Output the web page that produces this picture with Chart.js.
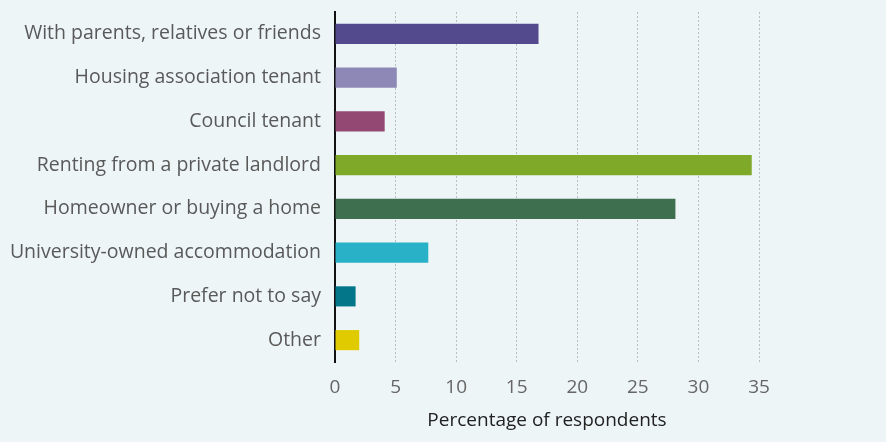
<!DOCTYPE html>
<html>
<head>
<meta charset="utf-8">
<script src="https://cdn.jsdelivr.net/npm/chart.js@4"></script>
<style>
  html, body { margin: 0; padding: 0; background: #eef5f7; }
  #wrap { width: 886px; height: 442px; }
</style>
</head>
<body>
<div id="wrap"><canvas id="housingChart" width="886" height="442"></canvas></div>
<script>
// Where respondents live (percentage)
const categories = [
  "With parents, relatives or friends",
  "Housing association tenant",
  "Council tenant",
  "Renting from a private landlord",
  "Homeowner or buying a home",
  "University-owned accommodation",
  "Prefer not to say",
  "Other"
];
const percentages = [16.8, 5.1, 4.1, 34.4, 28.1, 7.7, 1.7, 2.0];
const barColors = ["#534a8e", "#8e88b6", "#924872", "#7fa928", "#3e6f4f", "#29b1c8", "#03768a", "#dfcb00"];
const xTicks = [0, 5, 10, 15, 20, 25, 30, 35];

const ctx = document.getElementById("housingChart").getContext("2d");
new Chart(ctx, {
  type: "bar",
  data: {
    labels: categories,
    datasets: [
      {
        label: "Percentage of respondents",
        data: percentages,
        backgroundColor: barColors,
        borderWidth: 0,
        barPercentage: 0.46,
        categoryPercentage: 1.0
      }
    ]
  },
  options: {
    indexAxis: "y",
    responsive: false,
    animation: false,
    layout: {
      padding: { top: 12, right: 127, bottom: 0, left: 0 }
    },
    plugins: {
      legend: { display: false },
      tooltip: { enabled: false }
    },
    scales: {
      x: {
        min: 0,
        max: 35,
        afterBuildTicks: scale => {
          scale.ticks = xTicks.map(v => ({ value: v }));
        },
        afterFit: scale => {
          scale.height = 80;
        },
        grid: {
          color: "#b9bec2",
          lineWidth: 1,
          drawTicks: false
        },
        border: {
          display: false,
          dash: [2, 2]
        },
        ticks: {
          color: "#666666",
          padding: 14,
          font: { family: "Open Sans", size: 19 }
        },
        title: {
          display: true,
          text: "Percentage of respondents",
          color: "#222222",
          padding: { top: 0, bottom: 10 },
          font: { family: "Open Sans", size: 19 }
        }
      },
      y: {
        afterFit: scale => {
          scale.width = 335;
          // labels sit mid-category, no need for extra room top/bottom
          scale.paddingTop = 0;
          scale.paddingBottom = 0;
        },
        grid: {
          display: false,
          drawTicks: false
        },
        border: {
          display: true,
          color: "#111111",
          width: 2
        },
        ticks: {
          color: "#595959",
          padding: 14,
          font: { family: "Open Sans", size: 19.5 }
        }
      }
    }
  }
});
</script>
</body>
</html>
